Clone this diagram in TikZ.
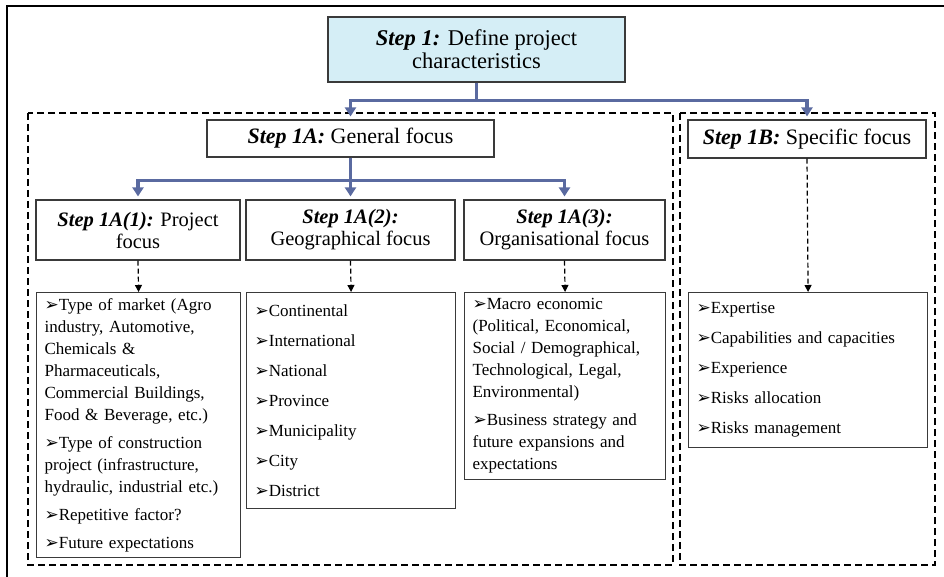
\documentclass[tikz,border=0pt]{standalone}
\usepackage{fontspec}
\setmainfont{Liberation Serif}
\newfontfamily\symfont{DejaVu Sans}
\usetikzlibrary{arrows.meta}
\definecolor{flowblue}{HTML}{5A6AA0}
\definecolor{headfill}{HTML}{D5EEF6}
\definecolor{boxline}{HTML}{3A3A3A}
\newcommand{\itm}{{\symfont\fontsize{17}{17}\selectfont\char"27A2}}
\newcommand{\stp}[1]{\textbf{\textit{#1}}}

\begin{document}
\begin{tikzpicture}[x=1pt,y=-1pt,
  box/.style={draw=boxline,line width=1.2pt,fill=white,align=center,inner sep=0pt,font=\fontsize{20.5}{22}\selectfont},
  listbox/.style={draw=boxline,line width=1.2pt,fill=white,align=left,anchor=north west,inner xsep=8pt,inner ysep=0pt,font=\fontsize{17}{22}\selectfont},
  flow/.style={draw=flowblue,line width=3.5pt,-{Triangle[width=11pt,length=9pt]},shorten >=3pt},
  subflow/.style={draw=black,line width=1.2pt,dash pattern=on 5pt off 3pt,-{Triangle[width=7pt,length=7pt]}},
  group/.style={draw=black,line width=1.2pt,dash pattern=on 7pt off 4pt}]
\useasboundingbox (0,0) rectangle (944,577);
\draw[line width=1.5pt] (7,577) -- (7,6) -- (944,6);
\draw[group] (28,113) rectangle (673,565);
\draw[group] (680,113) rectangle (935,565);

\node[box,fill=headfill,minimum width=297pt,minimum height=65pt,font=\fontsize{22.5}{23}\selectfont] (step1) at (476.5,49.5) {\stp{Step 1:} Define project\\characteristics};
\node[box,minimum width=287pt,minimum height=37pt,font=\fontsize{22}{23}\selectfont] (stepA) at (350.5,138.5) {\stp{Step 1A:} General focus};
\node[box,minimum width=238pt,minimum height=38pt,font=\fontsize{22}{23}\selectfont] (stepB) at (807,139) {\stp{Step 1B:} Specific focus};
\node[box,minimum width=204pt,minimum height=60pt] (focA1) at (138,230) {\stp{Step 1A(1):} Project\\focus};
\node[box,minimum width=209pt,minimum height=60pt] (focA2) at (350.5,230) {\stp{Step 1A(2):}\\Geographical focus};
\node[box,minimum width=201pt,minimum height=60pt] (focA3) at (564.5,230) {\stp{Step 1A(3):}\\Organisational focus};

\node[listbox,text width=188pt,minimum height=265pt] (list1) at (36,292) {\itm Type of market (Agro\\
industry, Automotive,\\
Chemicals \&\\
Pharmaceuticals,\\
Commercial Buildings,\\
Food \& Beverage, etc.)\\[6pt]
\itm Type of construction\\
project (infrastructure,\\
hydraulic, industrial etc.)\\[6pt]
\itm Repetitive factor?\\[6pt]
\itm Future expectations};
\node[listbox,text width=193pt,minimum height=216pt] (list2) at (246,292) {\itm Continental\\[8pt]
\itm International\\[8pt]
\itm National\\[8pt]
\itm Province\\[8pt]
\itm Municipality\\[8pt]
\itm City\\[8pt]
\itm District};
\node[listbox,text width=185pt,minimum height=187pt] (list3) at (464,292) {\itm Macro economic\\
(Political, Economical,\\
Social / Demographical,\\
Technological, Legal,\\
Environmental)\\[6pt]
\itm Business strategy and\\
future expansions and\\
expectations};
\node[listbox,text width=223pt,minimum height=155pt] (list4) at (688,292) {\itm Expertise\\[8pt]
\itm Capabilities and capacities\\[8pt]
\itm Experience\\[8pt]
\itm Risks allocation\\[8pt]
\itm Risks management};

\draw[flow] (step1.south) -- ++(0,18) -| (stepA.north);
\draw[flow] (step1.south) -- ++(0,18) -| (stepB.north);
\draw[flow] (stepA.south) -- ++(0,23) -| (focA1.north);
\draw[flow] (stepA.south) -- ++(0,23) -| (focA2.north);
\draw[flow] (stepA.south) -- ++(0,23) -| (focA3.north);

\draw[subflow] (focA1.south) -- (list1.north);
\draw[subflow] (focA2.south) -- (list2.north);
\draw[subflow] (focA3.south) -- (list3.north);
\draw[subflow] (stepB.south) -- (list4.north);
\end{tikzpicture}
\end{document}
